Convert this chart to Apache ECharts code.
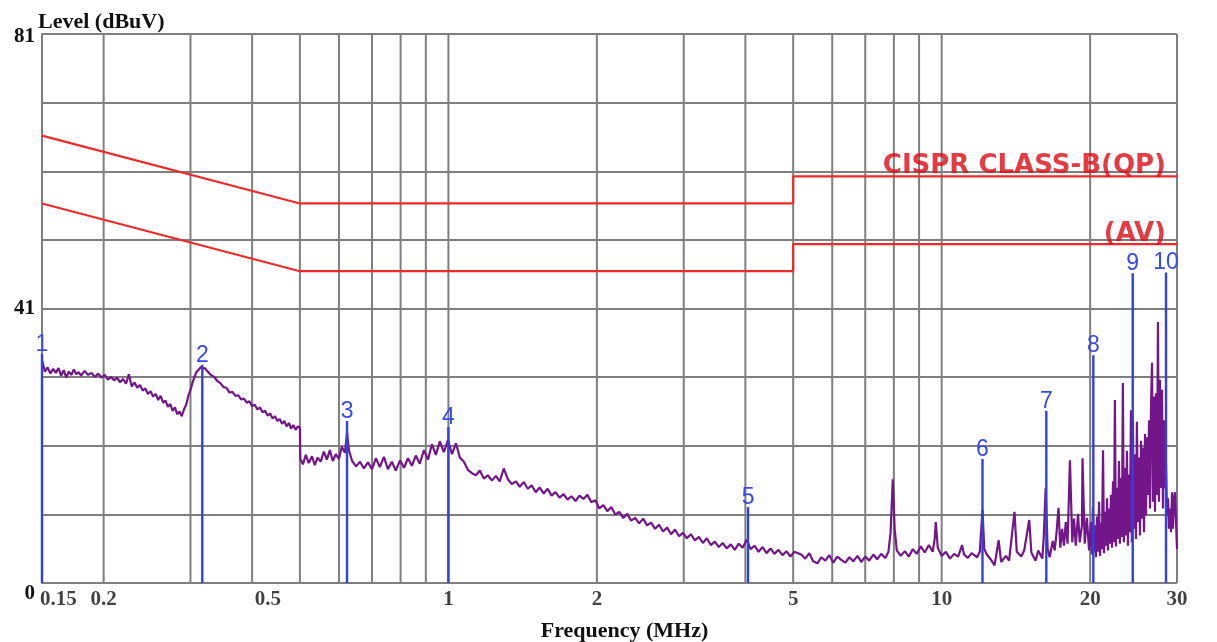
<!DOCTYPE html>
<html><head><meta charset="utf-8">
<script src="https://cdn.jsdelivr.net/npm/echarts@6/dist/echarts.min.js"></script>
<style>html,body{margin:0;padding:0;background:#fff}#c{width:1217px;height:642px}</style>
</head><body><div id="c"></div>
<script>
// ---- data (frequency MHz, level dBuV) ----
const traceA = [[0.150,32.9],[0.152,31.2],[0.154,31.8],[0.156,30.9],[0.158,31.6],[0.160,31.0],[0.162,31.7],[0.164,30.6],[0.166,31.4],[0.168,30.3],[0.170,31.2],[0.172,30.7],[0.174,31.5],[0.176,30.8],[0.178,31.1],[0.180,30.6],[0.183,31.3],[0.186,30.7],[0.189,31.0],[0.192,30.4],[0.195,30.9],[0.198,30.3],[0.201,30.7],[0.204,30.0],[0.207,30.4],[0.210,29.9],[0.213,30.3],[0.216,29.6],[0.219,30.1],[0.222,29.4],[0.225,30.8],[0.228,29.0],[0.231,29.6],[0.234,28.8],[0.237,29.2],[0.240,28.4],[0.243,28.7],[0.246,27.9],[0.249,28.3],[0.252,27.5],[0.255,27.9],[0.258,27.0],[0.261,27.6],[0.264,26.6],[0.267,26.9],[0.270,26.0],[0.273,26.4],[0.276,25.4],[0.279,25.9],[0.282,24.9],[0.285,25.3],[0.288,24.6],[0.291,25.6],[0.294,26.3],[0.297,27.6],[0.300,28.5],[0.303,29.6],[0.306,30.5],[0.309,31.2],[0.312,31.5],[0.315,31.9],[0.318,31.6],[0.321,31.7],[0.324,31.3],[0.327,31.0],[0.330,30.7],[0.335,30.4],[0.340,29.8],[0.345,29.5],[0.350,28.9],[0.355,28.8],[0.360,28.1],[0.365,28.2],[0.370,27.6],[0.375,27.7],[0.380,27.1],[0.385,27.2],[0.390,26.6],[0.395,26.8],[0.400,26.1],[0.405,26.3],[0.410,25.6],[0.415,25.9],[0.420,25.2],[0.425,25.4],[0.430,24.7],[0.435,25.0],[0.440,24.3],[0.445,24.6],[0.450,23.9],[0.455,24.2],[0.460,23.5],[0.465,23.9],[0.470,23.1],[0.475,23.6],[0.480,22.8],[0.485,23.3],[0.490,22.6],[0.495,23.1],[0.500,22.9]];
const traceB = [[0.501,18.3],[0.507,17.5],[0.514,18.9],[0.521,17.7],[0.529,18.7],[0.536,17.4],[0.543,18.5],[0.551,17.9],[0.559,19.4],[0.567,18.2],[0.575,19.6],[0.583,18.0],[0.591,19.0],[0.600,18.3],[0.608,20.1],[0.617,19.2],[0.623,22.2],[0.629,19.5],[0.638,18.0],[0.650,17.2],[0.662,17.9],[0.674,16.9],[0.687,17.8],[0.700,16.8],[0.713,18.4],[0.726,17.1],[0.740,18.6],[0.754,16.8],[0.768,17.9],[0.782,16.6],[0.798,18.1],[0.813,17.0],[0.828,18.4],[0.843,17.3],[0.859,18.8],[0.875,17.6],[0.892,19.6],[0.909,18.2],[0.926,20.5],[0.943,18.9],[0.961,20.9],[0.979,19.3],[0.998,21.1],[1.017,19.0],[1.036,20.6],[1.055,18.5],[1.075,17.9],[1.095,16.7]];
const traceC = [[1.116,16.2],[1.137,15.9],[1.158,16.6],[1.180,15.4],[1.202,15.9],[1.225,15.1],[1.248,15.8],[1.271,15.0],[1.295,16.9],[1.320,15.3],[1.344,14.6],[1.370,15.0],[1.395,14.2],[1.422,14.9],[1.448,13.9],[1.475,14.4],[1.503,13.4],[1.531,14.1],[1.560,13.2],[1.589,13.9],[1.619,12.9],[1.649,13.4],[1.680,12.6],[1.712,13.1],[1.744,12.3],[1.776,12.8],[1.810,12.1],[1.844,12.9],[1.878,12.4],[1.913,13.0],[1.949,11.9],[1.986,12.2],[2.023,11.0],[2.061,11.5],[2.100,10.6],[2.139,11.2],[2.179,10.1],[2.220,10.5],[2.262,9.6],[2.304,10.2],[2.347,9.2],[2.391,9.6],[2.436,8.8],[2.482,9.5],[2.528,8.5],[2.576,8.9],[2.624,8.0],[2.673,8.6],[2.724,7.6],[2.775,8.2],[2.827,7.2],[2.880,7.9],[2.934,6.9],[2.989,7.4],[3.045,6.6],[3.102,7.2],[3.160,6.3],[3.220,6.8],[3.280,5.9],[3.342,6.6],[3.404,5.6],[3.468,6.1],[3.533,5.3],[3.599,5.9],[3.667,5.1],[3.736,5.7],[3.806,4.9],[3.877,5.8],[3.950,5.2],[4.024,6.4],[4.099,5.0],[4.176,5.5],[4.254,4.6],[4.334,5.3],[4.415,4.4],[4.498,5.1],[4.582,4.3],[4.668,4.9],[4.756,4.1],[4.845,4.7],[4.936,3.9],[5.028,4.6]];
const traceD = [[5.19,4.2],[5.29,3.6],[5.39,4.4],[5.49,3.2],[5.60,2.9],[5.70,3.8],[5.81,3.3],[5.92,4.1],[6.03,3.0],[6.14,3.9],[6.26,3.4],[6.38,3.0],[6.50,3.8],[6.62,3.2],[6.75,4.0],[6.87,3.1],[7.00,3.9],[7.13,3.3],[7.27,4.2],[7.40,3.5],[7.54,4.3],[7.69,3.7],[7.80,4.6],[7.88,7.5],[7.96,15.3],[8.03,8.0],[8.11,4.8],[8.26,4.0],[8.42,4.7],[8.58,3.9],[8.74,5.0],[8.90,4.3],[9.07,5.4],[9.24,4.5],[9.42,5.6],[9.59,4.6],[9.68,6.5],[9.73,9.0],[9.82,5.2],[10.0,4.0],[10.2,4.6],[10.4,3.6],[10.6,4.3],[10.8,3.9],[11.0,5.6],[11.1,4.2],[11.3,3.7],[11.5,4.4],[11.8,3.8],[11.95,4.6],[12.1,10.8],[12.2,5.0],[12.35,4.2],[12.6,3.4],[12.8,2.6],[13.05,6.3],[13.2,3.1],[13.5,4.0],[13.7,3.3],[14.05,10.5],[14.2,4.6],[14.5,3.9],[14.7,4.8],[15.05,9.3]];
const traceE = [[15.2,4.5],[15.5,3.3],[15.7,4.8],[16.0,3.6],[16.1,6.5],[16.25,14.0],[16.4,5.0],[16.55,3.8],[16.8,6.2],[16.95,4.8],[17.1,7.5],[17.25,11.1],[17.4,5.2],[17.55,8.0],[17.7,5.5],[17.85,9.0],[18.0,5.8],[18.2,18.1],[18.4,6.0],[18.55,9.5],[18.7,5.5],[18.9,10.2],[19.05,6.0],[19.25,8.5],[19.3,18.4],[19.5,5.8],[19.7,9.6],[19.9,4.8],
[20.0,5.0],[20.08,9.0],[20.17,4.2],[20.26,11.2],[20.35,4.5],[20.45,8.5],[20.55,3.8],[20.65,9.8],[20.75,4.6],[20.85,12.0],[20.95,4.0],[21.03,8.8],[21.13,5.0],[21.24,19.6],[21.34,4.4],[21.44,10.5],[21.54,5.5],[21.64,12.5],[21.74,4.8],[21.84,11.0],[21.94,5.8],[22.04,13.0],[22.15,5.2],[22.25,15.0],[22.35,6.0],[22.45,27.0],[22.56,5.4],[22.66,14.0],[22.77,6.5],[22.88,18.0],[22.98,5.8],[23.09,15.5],[23.2,6.8],[23.3,29.5],[23.41,6.0],[23.52,17.0],[23.64,7.0],[23.75,19.5],[23.86,5.5],[23.97,16.0],[24.08,7.5],[24.2,25.5],[24.3,6.0],[24.42,24.0],[24.53,8.0],[24.65,19.0],[24.77,6.5],[24.88,23.8],[25.0,9.0],[25.12,18.5],[25.24,7.0],[25.36,21.0],[25.47,9.5],[25.6,20.0],[25.72,7.5],[25.84,22.0],[25.96,10.0],[26.08,21.5],[26.2,13.0],[26.33,24.0],[26.45,11.0],[26.57,26.0],[26.7,32.5],[26.82,12.0],[26.94,27.5],[27.07,10.5],[27.2,28.0],[27.32,13.0],[27.45,38.5],[27.58,12.0],[27.71,30.0],[27.84,14.0],[27.97,28.5],[28.1,11.0],[28.23,24.0],[28.36,14.0],[28.5,17.5],[28.63,10.0],[28.77,12.5],[28.9,8.0],[29.04,11.0],[29.17,7.5],[29.31,13.4],[29.44,8.0],[29.58,12.5],[29.72,13.4],[29.86,9.0],[30.0,5.0]];

const qpLimit = [[0.15,66],[0.5,56],[5,56],[5,60],[30,60]];
const avLimit = [[0.15,56],[0.5,46],[5,46],[5,50],[30,50]];
const limitNames = ['CISPR CLASS-B(QP)','(AV)'];

const markerFreq  = [0.15, 0.317, 0.623, 1.0, 4.05, 12.1, 16.3, 20.3, 24.4, 28.5];
const markerLevel = [33.8, 32.2, 23.9, 23.0, 11.2, 18.3, 25.4, 33.6, 45.7, 45.8];
const markerNames = ['1','2','3','4','5','6','7','8','9','10'];

const xTickValues = [0.15, 0.2, 0.5, 1, 2, 5, 10, 20, 30];
const xTickLabels = ['0.15','0.2','0.5','1','2','5','10','20','30'];
const gridFreqs = [0.2,0.3,0.4,0.5,0.6,0.7,0.8,0.9,1,2,3,4,5,6,7,8,9,10,20,30];
const yMin = 0, yMax = 81, yStep = 10.125;
const yTickText = {0:'0', 40.5:'41', 81:'81'};

// ---- chart ----
const trace = traceA.concat(traceB, traceC, traceD, traceE);
const serif = 'Liberation Serif';
const GRID = '#7f7f7f';
const chart = echarts.init(document.getElementById('c'), null, {renderer:'canvas'});

const tickData = xTickValues.map((v,i) => {
  const item = {value:[v, yMin], name:xTickLabels[i]};
  if (i === 0) item.label = {align:'left', offset:[-2,0]};
  if (xTickLabels[i] === '0.5') item.label = {offset:[-32,0]};
  return item;
});

chart.setOption({
  animation:false,
  backgroundColor:'#fff',
  grid:{left:42, right:40, top:34, bottom:59, outerBoundsMode:'none', containLabel:false},
  xAxis:{
    type:'log', logBase:10, min:0.15, max:30,
    axisLine:{show:false}, axisTick:{show:false}, axisLabel:{show:false}, splitLine:{show:false},
    name:'Frequency (MHz)', nameLocation:'middle', nameGap:37, nameMoveOverlap:false,
    nameTextStyle:{fontFamily:serif, fontWeight:'bold', fontSize:22, color:'#111', padding:[0,0,0,30]}
  },
  yAxis:{
    type:'value', min:yMin, max:yMax, interval:yStep,
    axisLine:{show:true, lineStyle:{color:GRID, width:2}}, axisTick:{show:false},
    splitLine:{show:true, lineStyle:{color:GRID, width:2}},
    axisLabel:{
      margin:7, fontFamily:serif, fontWeight:'bold', fontSize:21, color:'#111',
      formatter: v => { const t = yTickText[v]; if (t === undefined) return ''; return v === 0 ? '{z|0}' : (v === yMax ? '{t|81}' : t); },
      rich:{
        z:{fontFamily:serif, fontWeight:'bold', fontSize:21, color:'#111', padding:[22,0,0,0]},
        t:{fontFamily:serif, fontWeight:'bold', fontSize:21, color:'#111', padding:[6,0,0,0]}
      }
    },
    name:'Level (dBuV)', nameLocation:'end', nameGap:12, nameMoveOverlap:false,
    nameTextStyle:{fontFamily:serif, fontWeight:'bold', fontSize:22, color:'#111', align:'left', verticalAlign:'middle', padding:[0,0,0,-4]}
  },
  series:[
    { // vertical grid lines
      type:'custom', silent:true, z:1,
      data: gridFreqs.map(f => [f]),
      renderItem:(params, api) => {
        const a = api.coord([api.value(0), yMin]);
        const b = api.coord([api.value(0), yMax]);
        return {type:'line', shape:{x1:a[0], y1:a[1], x2:b[0], y2:b[1]}, style:{stroke:GRID, lineWidth:2}};
      }
    },
    { // measured trace
      type:'line', name:'trace', data:trace, symbol:'none', z:3, silent:true,
      lineStyle:{color:'#73168a', width:2.2}
    },
    {
      type:'line', name:'QP', data:qpLimit, symbol:'none', z:4, silent:true,
      lineStyle:{color:'#ee2a2a', width:2.2}
    },
    {
      type:'line', name:'AV', data:avLimit, symbol:'none', z:4, silent:true,
      lineStyle:{color:'#ee2a2a', width:2.2}
    },
    { // limit line labels
      type:'scatter', symbolSize:0, z:6, silent:true,
      data:[
        {value:qpLimit[qpLimit.length-1], name:limitNames[0]},
        {value:avLimit[avLimit.length-1], name:limitNames[1]}
      ],
      label:{show:true, formatter:'{b}', position:'top', align:'right', distance:0, offset:[-11,3],
        fontFamily:'DejaVu Sans', fontWeight:'bold', fontSize:26, color:'#e00a14'}
    },
    { // markers
      type:'custom', z:5, silent:true,
      data: markerFreq.map((f,i) => [f, markerLevel[i]]),
      renderItem:(params, api) => {
        const a = api.coord([api.value(0), yMin]);
        const b = api.coord([api.value(0), api.value(1)]);
        return {type:'group', children:[
          {type:'line', shape:{x1:a[0], y1:a[1], x2:b[0], y2:b[1]}, style:{stroke:'#3140e0', lineWidth:2.4}},
          {type:'text', x:b[0], y:b[1]+2, style:{text:markerNames[params.dataIndex], align:'center', verticalAlign:'bottom',
            fontFamily:'Liberation Sans', fontSize:23, fill:'#3a4ae6'}}
        ]};
      }
    },
    { // x tick labels
      type:'scatter', symbolSize:0, z:6, silent:true,
      data: tickData,
      label:{show:true, formatter:'{b}', position:'bottom', distance:6,
        fontFamily:serif, fontWeight:'bold', fontSize:21, color:'#111'}
    }
  ]
});
</script></body></html>
